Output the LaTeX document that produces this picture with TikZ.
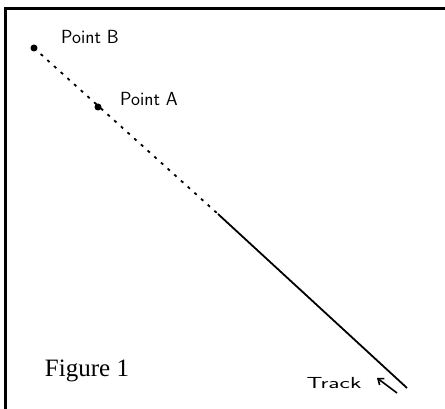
\documentclass[tikz,border=0pt]{standalone}
\usepackage{fontspec}
\setmainfont{Liberation Serif}
\usetikzlibrary{arrows.meta}
\begin{document}
\begin{tikzpicture}[x=1pt,y=-1pt,
  dotpt/.style={circle,fill=black,inner sep=0pt,minimum size=7pt},
  hand/.style={font=\sffamily\fontsize{19}{19}\selectfont},
  track/.style={line width=1.8pt},
  trail/.style={line width=1.8pt,dash pattern=on 3pt off 6pt},
  frame/.style={line width=3pt}]
\useasboundingbox (0,0) rectangle (445,409);
\fill[white] (0,0) rectangle (445,409);
% frame (top and left edges)
\coordinate (f0) at (5,9);
\coordinate (f1) at (445,9);
\coordinate (f2) at (5,409);
\draw[frame] (f1) -- (f0) -- (f2);
% points
\node[dotpt] (pb) at (34,48) {};
\node[dotpt] (pa) at (98,107) {};
\node[hand,anchor=center] (lb) at (90,37) {Point B};
\node[hand,anchor=center] (la) at (149,99) {Point A};
% track
\coordinate (c1) at (218,214);
\coordinate (c2) at (407,388);
\draw[trail] (pb.center) -- (c1);
\draw[track] (c1) -- (c2);
% arrow
\coordinate (a1) at (397,393);
\coordinate (a2) at (377,378);
\draw[line width=1.6pt,-{Straight Barb[length=5pt,width=8pt]}] (a1) -- (a2);
\node[font=\sffamily\fontsize{16}{16}\selectfont,xscale=1.55,anchor=center] (lt) at (334,383) {Track};
\node[font=\fontsize{25}{25}\selectfont,anchor=center] (fig) at (87,371) {Figure 1};
\end{tikzpicture}
\end{document}
